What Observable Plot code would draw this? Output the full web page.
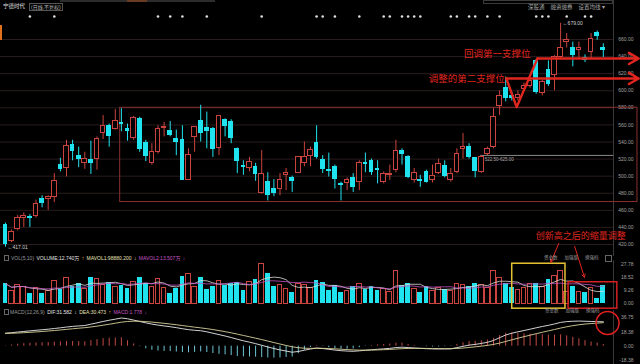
<!DOCTYPE html>
<html><head><meta charset="utf-8">
<script src="https://cdn.jsdelivr.net/npm/d3@7"></script>
<script src="https://cdn.jsdelivr.net/npm/@observablehq/plot@0.6"></script>
<style>
html,body{margin:0;padding:0;background:#000;}
#wrap{position:relative;width:640px;height:364px;background:#000;overflow:hidden;font-family:"Noto Sans CJK SC","Liberation Sans",sans-serif;}
#wrap svg{position:absolute;left:0;}
.t{position:absolute;white-space:nowrap;line-height:1;transform:translateY(-50%);font-family:"Liberation Sans","Noto Sans CJK SC",sans-serif;}
.t span{margin-right:2.4px;}
</style></head><body><div id="wrap"></div>
<script>
// ---- daily candles (index 0..98) ----
const opens  = [443,424,438,451,453,453,474,473,476,514, 509,537,524,515,520,520,550,559,555,563, 556,545,567,540,515,528,556,554,544,543,
                496,546,565,557,556,533,566,564,532,512, 510,511,480,494,485,485,501,499,504,515, 524,540,520,508,511,492,492,498,493,516,
                518,509,493,501,507,530,523,496,496,505, 495,504,513,495,505,532,535,522,505,526, 534,582,604,594,591,602,606,635,597,625,
                618,639,657,651,648,639,645,668,651];
const highs  = [445,437,454,457,455,472,477,477,503,521, 542,542,534,528,541,546,571,561,578,579, 561,570,569,542,538,559,563,564,554,559,
                532,558,583,575,557,571,567,566,533,518, 522,515,530,504,496,503,509,500,523,540, 534,559,524,527,513,493,498,503,518,527,
                520,518,505,513,542,532,524,509,501,507, 513,520,518,509,532,550,538,522,524,534, 579,600,616,598,600,609,614,637,612,635,
                641,679,667,657,657,642,667,670,655];
const lows   = [417,422,436,440,440,451,463,460,469,505, 499,518,510,508,502,507,543,534,554,552, 541,542,528,517,513,526,546,546,524,495,
                495,528,540,532,522,524,546,538,503,501, 505,494,479,471,476,477,483,481,503,511, 511,520,503,499,485,471,483,481,483,504,
                501,491,491,495,504,513,497,492,487,492, 492,502,498,493,503,520,520,498,503,524, 532,571,587,588,588,601,603,596,594,605,
                600,637,650,628,637,633,637,659,639];
const closes = [420,435,451,453,451,468,468,476,494,508, 535,529,520,520,515,543,559,546,565,560, 552,568,531,523,528,555,558,548,540,495,
                525,557,550,552,531,570,558,544,517,510, 517,502,502,477,480,495,504,494,522,523, 531,522,508,506,496,489,495,487,516,514,
                504,507,502,503,530,525,498,504,494,493, 500,514,500,503,526,534,522,505,522,532, 569,594,591,591,595,606,611,598,610,607,
                639,650,660,641,650,636,661,664,647];
// volume, 万手
const volumes = [14,9,13,12,7.5,11,7.5,9,16,10, 18,12,14,10,18,17,13,15,12,13, 11,15,18,14,12,17,11,7.5,11,19,
                 21,12,18,10,12,16,13,14,15,9, 15,17,28,21,12,13,10,8,14,13, 11,16,15,9,13,8,9,12,14,10,
                 12,9,10,8,23,13,14,10,8,12, 9,11,10,9,14,13,12,14,13,11, 22.5,18,14,11.5,9.3,10.9,14,14,11.7,16.9,
                 19.7,22.5,8,12.3,8.2,7.7,10.9,3.5,12.74];
// MACD(12,26,9)
const difs = [16.8,17.5,18.3,19.1,19.8,20.6,21.3,22.0,22.9,23.8, 24.8,25.6,26.2,26.8,28.5,30.2,32.0,33.6,35.0,36.5,
              35.5,33.8,32.0,30.2,28.6,27.3,26.2,25.2,24.0,22.6, 21.4,20.6,20.0,18.6,16.8,15.0,13.2,11.2,9.0,7.0,
              5.2,3.3,1.2,-1.0,-3.0,-4.8,-6.3,-7.8,-6.8,-5.2, -3.6,-2.4,-3.0,-4.0,-5.0,-5.8,-6.3,-6.6,-6.0,-5.3,
              -4.6,-4.0,-3.4,-2.8,-1.8,-1.3,-1.8,-2.3,-2.8,-3.2, -3.5,-3.6,-3.5,-3.4,-1.8,-0.2,1.4,2.3,3.6,5.0,
              7.4,11.0,14.5,16.8,18.6,20.3,22.0,23.8,25.5,27.0, 28.8,30.8,31.8,32.3,32.5,32.3,32.0,31.8,31.58];
const deas = [16.56,16.75,17.06,17.47,17.94,18.47,19.04,19.63,20.28,20.99, 21.75,22.52,23.26,23.97,24.88,25.94,27.15,28.44,29.75,31.10,
              31.98,32.34,32.27,31.86,31.21,30.43,29.58,28.70,27.76,26.73, 25.66,24.65,23.72,22.70,21.52,20.22,18.81,17.29,15.63,13.90,
              12.16,10.39,8.55,6.64,4.71,2.81,0.99,-0.77,-1.98,-2.62, -2.82,-2.74,-2.79,-3.03,-3.42,-3.90,-4.38,-4.82,-5.06,-5.11,
              -5.01,-4.81,-4.53,-4.18,-3.70,-3.22,-2.94,-2.81,-2.81,-2.89, -3.01,-3.13,-3.20,-3.24,-2.95,-2.40,-1.64,-0.85,0.04,1.03,
              2.30,4.04,6.13,8.26,10.33,12.32,14.26,16.17,18.04,19.83, 21.62,23.46,25.13,26.56,27.75,28.66,29.33,29.82,30.47];
// ticks
const priceTicks = [420,440,460,480,500,520,540,560,580,600,620,640,660];
const volTicks = [0,9.26,18.52,27.78];
const volTickLabels = ["0.00","9.26","18.52","27.78"];
const macdTicks = [-18.38,0,18.38,36.75];
const macdTickLabels = ["-18.38","0.00","18.38","36.75"];
// event markers along the top (candle index)
const markerIdx = [4,8,25,27,29,33,42,51,52,54,58,62,63,65,66,67,68,73,74,76,77,79,81,87,88,89,92,95,96];
// annotations (candle index / price)
const boxRange = [{x1:18.8, x2:103.6, lo:469.7, hi:580.1}];
const supportLines = [{name:"回调第一支撑位", from:87.2, to:103.8, p:637.8}, {name:"调整的第二支撑位", from:82.1, to:103.8, p:614.4}];
const vPath = [{i:82.1,p:614.4},{i:83.8,p:580.8},{i:87.2,p:637.8}];
const notes = [{i:80.6,p:642.5,t:"回调第一支撑位",s:9.5},{i:75.6,p:614.0,t:"调整的第二支撑位",s:9.5},{i:94.3,p:430.4,t:"创新高之后的缩量调整",s:9}];
const grayLevel = [{from:77.9,to:99.7,p:524.3,t:"522.50-625.00"}];
const extremes = [{i:91,p:679,t:"679.00"},{i:0,p:417,t:"417.01"}];
const yellowBox = [{x1:83.07,x2:91.8,lo:-3.4,hi:27.9}];
const redBox = [{x1:92.3,x2:100.3,lo:-3.4,hi:15.0}];
const volArrows = [{x1:90.7,y1:42,x2:89.4,y2:29},{x1:93.3,y1:40,x2:94.9,y2:18.5}];
const circleMark = [{i:98.7,v:30}];

const RED="#c9443e", CYAN="#1fe3ee", BG="#000", GRID="#2a1c1c", LBL="#a0a0a0", ANN="#e0261f";
const BW = 0.38;
const candles = opens.map((o,k)=>({i:k,o,h:highs[k],l:lows[k],c:closes[k],v:volumes[k],dif:difs[k],dea:deas[k],m:2*(difs[k]-deas[k])}));
const up = candles.filter(d=>d.c>=d.o), dn = candles.filter(d=>d.c<d.o);
const X = {domain:[0,98], range:[5,602.8], axis:null};
const DIV = 99.67; // panel right edge, in candle index units
const baseStyle = {background:"transparent", overflow:"visible", fontFamily:"Liberation Sans, sans-serif"};
const wrap = document.getElementById("wrap");
function place(svg, top){ svg.style.top = top+"px"; wrap.appendChild(svg); }

// ---- price panel ----
const price = Plot.plot({
  width:640, height:256, marginLeft:0, marginRight:27, marginTop:0, marginBottom:0,
  x:X, y:{domain:[420,660], range:[244,39], axis:null},
  style:baseStyle,
  marks:[
    Plot.ruleY(priceTicks,{stroke:GRID}),
    Plot.ruleX([DIV],{stroke:"#3a3a3a"}),
    Plot.text(priceTicks,{y:d=>d, frameAnchor:"right", dx:20, textAnchor:"end", text:d=>d.toFixed(2), fill:LBL, fontSize:5}),
    Plot.rect(boxRange,{x1:"x1",x2:"x2",y1:"lo",y2:"hi",fill:"none",stroke:"#8a3030"}),
    Plot.ruleY(grayLevel,{y:"p",x1:"from",x2:"to",stroke:"#8a8a8a"}),
    Plot.text(grayLevel,{x:"from",y:"p",text:"t",dx:4,dy:4,textAnchor:"start",fill:"#aaa",fontSize:4.5}),
    Plot.ruleX(up,{x:"i",y1:"l",y2:"h",stroke:RED}),
    Plot.ruleX(dn,{x:"i",y1:"l",y2:"h",stroke:CYAN}),
    Plot.rect(up,{x1:d=>d.i-BW,x2:d=>d.i+BW,y1:"o",y2:"c",fill:BG,stroke:RED,shapeRendering:"crispEdges"}),
    Plot.rect(dn,{x1:d=>d.i-BW,x2:d=>d.i+BW,y1:"o",y2:"c",fill:CYAN,shapeRendering:"crispEdges"}),
    Plot.dot(markerIdx,{x:d=>d, frameAnchor:"top", dy:16, r:1.3, fill:"#e0e0e0"}),
    Plot.text(extremes,{x:"i",y:"p",text:d=>"←"+d.t,dx:2,textAnchor:"start",fill:"#d0d0d0",fontSize:5}),
    Plot.line(vPath,{x:"i",y:"p",stroke:ANN,strokeWidth:2.4}),
    Plot.arrow(supportLines,{x1:"from",x2:"to",y1:"p",y2:"p",stroke:ANN,strokeWidth:2.4,headLength:7}),
    Plot.text(notes,{x:"i",y:"p",text:"t",fill:ANN,fontSize:d=>d.s,fontFamily:"Noto Sans CJK SC"})
  ]
});
place(price,0);

// ---- volume panel ----
const vol = Plot.plot({
  width:640, height:84, marginLeft:0, marginRight:27, marginTop:0, marginBottom:0,
  x:X, y:{domain:[0,27.78], range:[77.3,37.4], axis:null},
  style:baseStyle,
  marks:[
    Plot.ruleX([DIV],{y1:-3.4,y2:30,stroke:"#3a3a3a"}),
    Plot.text(volTicks,{y:d=>d, frameAnchor:"right", dx:20, textAnchor:"end", text:(d,k)=>volTickLabels[k], fill:LBL, fontSize:5}),
    Plot.rect(up,{x1:d=>d.i-BW,x2:d=>d.i+BW,y1:0,y2:"v",fill:BG,stroke:RED,shapeRendering:"crispEdges"}),
    Plot.rect(dn,{x1:d=>d.i-BW,x2:d=>d.i+BW,y1:0,y2:"v",fill:CYAN,shapeRendering:"crispEdges"}),
    Plot.lineY(candles,Plot.windowY({k:5,anchor:"end",reduce:"mean"},{x:"i",y:"v",stroke:"#dcdcdc",strokeWidth:0.8})),
    Plot.lineY(candles,Plot.windowY({k:10,anchor:"end",reduce:"mean"},{x:"i",y:"v",stroke:"#c455c4",strokeWidth:0.8})),
    Plot.rect(yellowBox,{x1:"x1",x2:"x2",y1:"lo",y2:"hi",fill:"none",stroke:"#e6c233",strokeWidth:1.5}),
    Plot.rect(redBox,{x1:"x1",x2:"x2",y1:"lo",y2:"hi",fill:"none",stroke:"#d42020",strokeWidth:1.5}),
    Plot.arrow(volArrows,{x1:"x1",y1:"y1",x2:"x2",y2:"y2",stroke:ANN,strokeWidth:1,headLength:5})
  ]
});
place(vol,226);

// ---- MACD panel ----
const macd = Plot.plot({
  width:640, height:54, marginLeft:0, marginRight:27, marginTop:0, marginBottom:0,
  x:X, y:{domain:[-18.38,36.75], range:[49.9,7.3], axis:null},
  style:baseStyle,
  marks:[
    Plot.ruleX([DIV],{stroke:"#3a3a3a"}),
    Plot.text(macdTicks,{y:d=>d, frameAnchor:"right", dx:20, textAnchor:"end", text:(d,k)=>macdTickLabels[k], fill:LBL, fontSize:5}),
    Plot.ruleX(candles.filter(d=>d.m>=0),{x:"i",y1:0,y2:"m",stroke:"#c24a46"}),
    Plot.ruleX(candles.filter(d=>d.m<0),{x:"i",y1:0,y2:"m",stroke:"#6fc6d6"}),
    Plot.line(candles,{x:"i",y:"dif",stroke:"#e8e8e8",strokeWidth:0.9}),
    Plot.line(candles,{x:"i",y:"dea",stroke:"#d8cf9a",strokeWidth:0.9}),
    Plot.dot(circleMark,{x:"i",y:"v",r:11.5,stroke:"#e02020",strokeWidth:1.5,fill:"none"})
  ]
});
place(macd,310);

// ---- text headers (HTML) ----
function line(x,y,size,parts){const e=document.createElement("div");e.className="t";e.style.left=x+"px";e.style.top=y+"px";e.style.fontSize=size+"px";
  for(const [s,c] of parts){const sp=document.createElement("span");sp.textContent=s;sp.style.color=c;e.appendChild(sp);} wrap.appendChild(e);return e;}
function deco(x,y,w,h,bg,border){const e=document.createElement("div");e.style.cssText=`position:absolute;left:${x}px;top:${y}px;width:${w}px;height:${h}px;background:${bg||"transparent"};${border?"border:1px solid "+border+";":""}box-sizing:border-box;`;wrap.appendChild(e);}
deco(60,0,155,2,"#2c2c2c"); deco(127,0,20,2,"#6a3a22"); deco(483,0,130,4,"transparent","#3a3a3a");
deco(0,25,2,15,"#e0701c");
line(3,7,5.5,[["宁德时代","#e0e0e0"]]);
deco(29,3,34,8,"transparent","#555");
line(31,7,5,[["(日线,不复权)","#bdbdbd"]]);
line(528,8,5.5,[["深股通","#a8a8a8"],["融资融券","#a8a8a8"],["设置均线 ▾","#a8a8a8"]]).querySelectorAll("span").forEach(s=>s.style.marginRight="6px");
// volume header
deco(4,255,5,6,"transparent","#666");
line(11,258,5,[["VOL(5,10)","#9a9a9a"],["VOLUME:12.740万","#e0e0e0"],["↑","#e0b030"],["MAVOL1:98880.200","#e8e2b8"],["↓","#e8e2b8"],["MAVOL2:13.507万","#c455c4"],["↓","#c455c4"]]);
line(544,258,4.5,[["资金数","#9a9a9a"],["加强版","#9a9a9a"],["换强档","#9a9a9a"]]).querySelectorAll("span").forEach(s=>s.style.marginRight="7px");
deco(605,255,7,7,"transparent","#666");
// MACD header
deco(4,309,5,6,"transparent","#666");
line(10,312,5,[["MACD(12,26,9)","#9a9a9a"],["DIF:31.582","#e8e8e8"],["↓","#e8e8e8"],["DEA:30.473","#e8e2b8"],["↑","#e0b030"],["MACD:1.778","#c455c4"],["↓","#c455c4"]]);
line(545,311,4.5,[["资金数","#9a9a9a"],["加强版","#9a9a9a"],["换强档","#9a9a9a"]]).querySelectorAll("span").forEach(s=>s.style.marginRight="7px");
</script></body></html>
